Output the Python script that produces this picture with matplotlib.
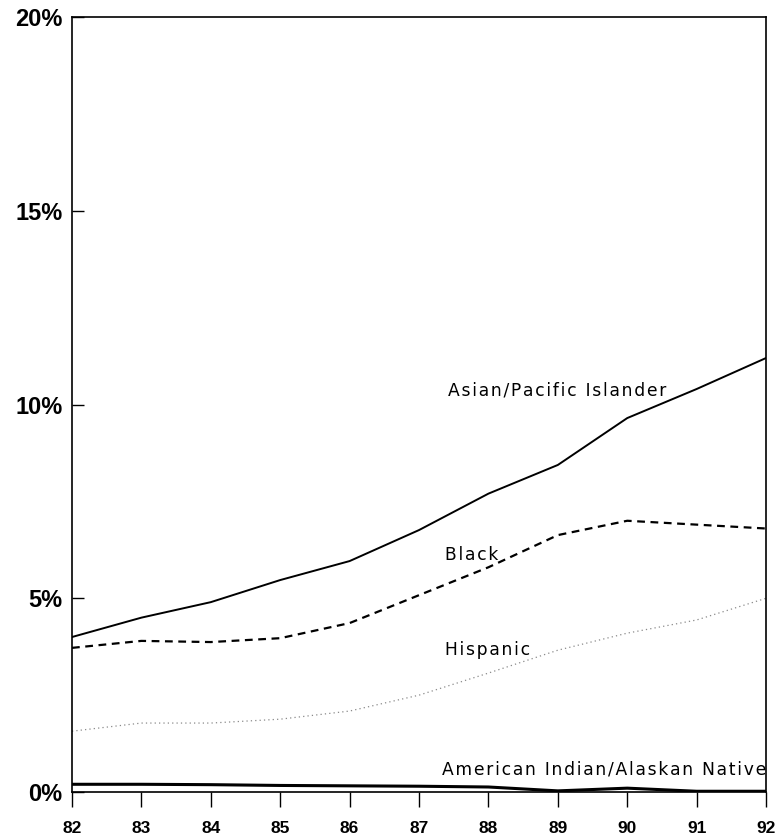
import matplotlib
matplotlib.use("Agg")
import matplotlib.pyplot as plt
from matplotlib.ticker import FuncFormatter

plt.rcParams['font.family'] = ['Liberation Sans', 'DejaVu Sans']

years = [82, 83, 84, 85, 86, 87, 88, 89, 90, 91, 92]
asian = [4.0, 4.5, 4.9, 5.47, 5.96, 6.76, 7.7, 8.44, 9.65, 10.4, 11.2]
black = [3.72, 3.9, 3.87, 3.97, 4.36, 5.08, 5.8, 6.63, 7.0, 6.9, 6.8]
hispanic = [1.57, 1.78, 1.78, 1.88, 2.09, 2.5, 3.07, 3.66, 4.1, 4.44, 5.0]
amind = [0.2, 0.2, 0.19, 0.17, 0.16, 0.15, 0.13, 0.03, 0.1, 0.02, 0.02]
yticks = [0, 5, 10, 15, 20]


def spaced(s):
    # wide letter spacing like the original typewriter-ish labels
    return '\u200a'.join(s)


fig = plt.figure(figsize=(7.79, 8.40), dpi=100)
ax = fig.add_axes([0.0924, 0.0571, 0.891, 0.9227])

ax.plot(years, asian, color='black', lw=1.4)
ax.plot(years, black, color='black', lw=1.6, linestyle=(0, (3.5, 2.5)))
ax.plot(years, hispanic, color='#8a8a8a', lw=0.9, linestyle=(0, (1, 2.5)))
ax.plot(years, amind, color='black', lw=2.2)

txt = dict(fontsize=12.3, color='black', family='DejaVu Sans', va='center', ha='left')
ax.text(87.42, 10.35, spaced('Asian/Pacific Islander'), **txt)
ax.text(87.38, 6.12, spaced('Black'), **txt)
ax.text(87.38, 3.66, spaced('Hispanic'), **txt)
ax.text(87.33, 0.57, spaced('American Indian/Alaskan Native'), **txt)

ax.set_xlim(82, 92)
ax.set_ylim(0, 20)
ax.set_xticks(years)
ax.set_yticks(yticks)
ax.yaxis.set_major_formatter(FuncFormatter(lambda v, p: f"{int(v)}%"))
ax.tick_params(axis='y', direction='in', length=8.5, width=1, labelsize=17, pad=7)
ax.tick_params(axis='x', direction='out', length=11, width=1, labelsize=12.5, pad=10)
for lab in ax.get_xticklabels() + ax.get_yticklabels():
    lab.set_fontweight('bold')
for s in ax.spines.values():
    s.set_linewidth(1.2)

fig.savefig('out.png', dpi=100)
